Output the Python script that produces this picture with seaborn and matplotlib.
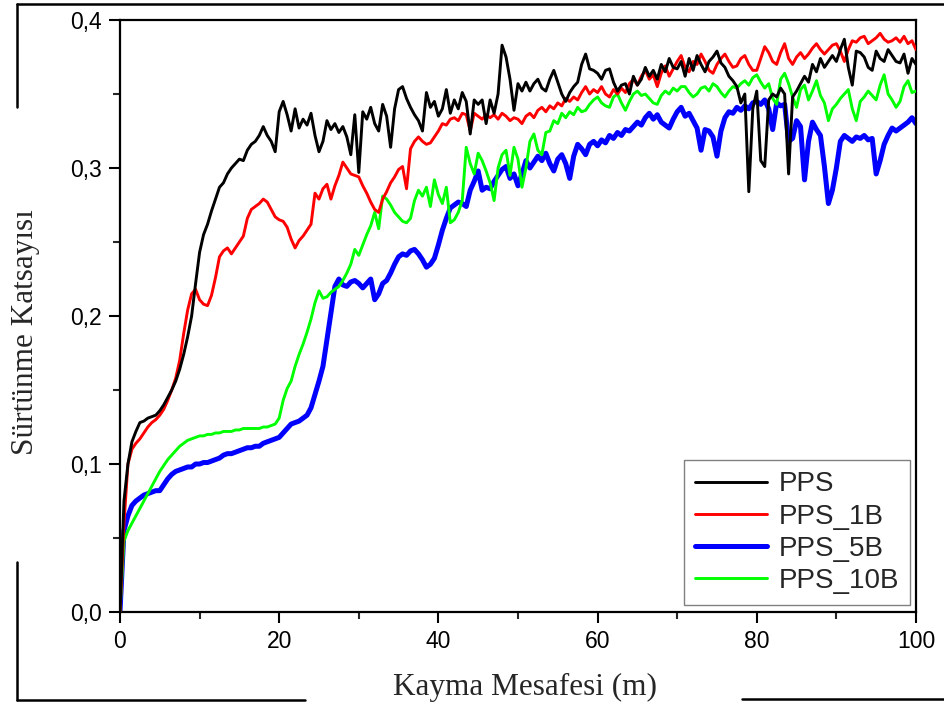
import numpy as np
import pandas as pd
import matplotlib
matplotlib.use("Agg")
import matplotlib.pyplot as plt
from matplotlib.lines import Line2D
from matplotlib.ticker import MultipleLocator
import seaborn as sns

# Sliding distance grid (m), 0.5 m step
distance = np.arange(0, 100.5, 0.5)

pps = [
    0.000, 0.075, 0.100, 0.115, 0.122, 0.128, 0.129, 0.131, 0.132, 0.133, 0.136, 0.140, 0.145, 0.150, 0.156, 0.164, 0.174, 0.186, 0.200, 0.222,
    0.243, 0.255, 0.262, 0.271, 0.279, 0.287, 0.290, 0.296, 0.300, 0.303, 0.306, 0.305, 0.312, 0.316, 0.318, 0.322, 0.328, 0.322, 0.318, 0.311,
    0.338, 0.345, 0.336, 0.325, 0.340, 0.327, 0.333, 0.329, 0.337, 0.322, 0.311, 0.318, 0.332, 0.326, 0.330, 0.324, 0.328, 0.321, 0.309, 0.336,
    0.297, 0.338, 0.333, 0.341, 0.330, 0.325, 0.343, 0.335, 0.314, 0.340, 0.353, 0.355, 0.347, 0.341, 0.336, 0.332, 0.325, 0.351, 0.341, 0.345,
    0.335, 0.340, 0.353, 0.337, 0.346, 0.340, 0.351, 0.345, 0.323, 0.346, 0.343, 0.346, 0.330, 0.346, 0.337, 0.350, 0.383, 0.375, 0.360, 0.339,
    0.357, 0.352, 0.358, 0.352, 0.357, 0.360, 0.354, 0.352, 0.360, 0.366, 0.358, 0.350, 0.345, 0.351, 0.355, 0.358, 0.370, 0.377, 0.367, 0.366,
    0.364, 0.360, 0.366, 0.367, 0.358, 0.352, 0.356, 0.357, 0.350, 0.362, 0.356, 0.360, 0.368, 0.362, 0.366, 0.360, 0.370, 0.365, 0.374, 0.368,
    0.367, 0.372, 0.362, 0.374, 0.366, 0.376, 0.370, 0.365, 0.372, 0.375, 0.379, 0.371, 0.368, 0.362, 0.359, 0.355, 0.344, 0.350, 0.284, 0.340,
    0.352, 0.305, 0.301, 0.346, 0.350, 0.348, 0.354, 0.350, 0.296, 0.348, 0.352, 0.357, 0.362, 0.358, 0.370, 0.365, 0.374, 0.368, 0.372, 0.376,
    0.372, 0.380, 0.387, 0.368, 0.356, 0.379, 0.378, 0.375, 0.368, 0.366, 0.379, 0.374, 0.372, 0.380, 0.376, 0.372, 0.371, 0.377, 0.364, 0.374,
    0.370,
]

pps_1b = [
    0.000, 0.060, 0.100, 0.110, 0.114, 0.117, 0.121, 0.125, 0.128, 0.130, 0.133, 0.137, 0.143, 0.150, 0.158, 0.170, 0.188, 0.204, 0.215, 0.218,
    0.211, 0.208, 0.207, 0.214, 0.226, 0.240, 0.244, 0.246, 0.242, 0.246, 0.250, 0.254, 0.266, 0.272, 0.274, 0.276, 0.279, 0.277, 0.272, 0.267,
    0.265, 0.264, 0.260, 0.252, 0.246, 0.251, 0.254, 0.258, 0.262, 0.283, 0.279, 0.286, 0.289, 0.279, 0.288, 0.295, 0.304, 0.300, 0.296, 0.295,
    0.294, 0.288, 0.283, 0.277, 0.272, 0.270, 0.279, 0.284, 0.290, 0.294, 0.299, 0.301, 0.286, 0.313, 0.318, 0.321, 0.318, 0.316, 0.317, 0.321,
    0.325, 0.330, 0.329, 0.333, 0.334, 0.332, 0.337, 0.336, 0.325, 0.337, 0.335, 0.333, 0.336, 0.334, 0.336, 0.333, 0.337, 0.335, 0.332, 0.334,
    0.333, 0.330, 0.335, 0.337, 0.334, 0.339, 0.341, 0.338, 0.342, 0.340, 0.344, 0.342, 0.347, 0.345, 0.348, 0.346, 0.351, 0.355, 0.350, 0.353,
    0.351, 0.355, 0.350, 0.348, 0.353, 0.350, 0.354, 0.351, 0.357, 0.360, 0.356, 0.362, 0.366, 0.360, 0.363, 0.355, 0.364, 0.369, 0.362, 0.367,
    0.372, 0.376, 0.368, 0.365, 0.372, 0.370, 0.377, 0.372, 0.366, 0.364, 0.370, 0.374, 0.377, 0.372, 0.368, 0.369, 0.374, 0.376, 0.370, 0.366,
    0.366, 0.374, 0.382, 0.378, 0.372, 0.370, 0.378, 0.384, 0.374, 0.370, 0.375, 0.378, 0.374, 0.377, 0.381, 0.384, 0.380, 0.377, 0.380, 0.383,
    0.384, 0.379, 0.372, 0.380, 0.386, 0.385, 0.388, 0.389, 0.384, 0.386, 0.388, 0.391, 0.387, 0.385, 0.386, 0.388, 0.385, 0.389, 0.384, 0.386,
    0.380,
]

pps_5b = [
    0.000, 0.055, 0.065, 0.072, 0.075, 0.077, 0.079, 0.080, 0.081, 0.082, 0.082, 0.086, 0.090, 0.093, 0.095, 0.096, 0.097, 0.098, 0.098, 0.100,
    0.100, 0.101, 0.101, 0.102, 0.103, 0.104, 0.106, 0.107, 0.107, 0.108, 0.109, 0.110, 0.111, 0.111, 0.112, 0.112, 0.114, 0.115, 0.116, 0.117,
    0.118, 0.121, 0.124, 0.127, 0.128, 0.129, 0.131, 0.133, 0.138, 0.147, 0.156, 0.166, 0.184, 0.202, 0.220, 0.225, 0.221, 0.220, 0.223, 0.224,
    0.222, 0.219, 0.222, 0.225, 0.211, 0.215, 0.222, 0.224, 0.229, 0.235, 0.240, 0.242, 0.241, 0.244, 0.245, 0.242, 0.238, 0.233, 0.235, 0.239,
    0.248, 0.258, 0.266, 0.273, 0.275, 0.277, 0.276, 0.274, 0.285, 0.291, 0.298, 0.285, 0.287, 0.286, 0.291, 0.295, 0.299, 0.301, 0.293, 0.296,
    0.288, 0.296, 0.305, 0.300, 0.304, 0.308, 0.305, 0.310, 0.303, 0.298, 0.306, 0.309, 0.303, 0.293, 0.308, 0.316, 0.313, 0.309, 0.316, 0.318,
    0.315, 0.319, 0.317, 0.322, 0.320, 0.324, 0.322, 0.326, 0.325, 0.328, 0.331, 0.329, 0.334, 0.337, 0.333, 0.336, 0.331, 0.329, 0.327, 0.333,
    0.338, 0.341, 0.335, 0.337, 0.332, 0.327, 0.312, 0.326, 0.325, 0.321, 0.308, 0.325, 0.334, 0.338, 0.337, 0.341, 0.339, 0.342, 0.340, 0.344,
    0.345, 0.343, 0.346, 0.340, 0.326, 0.344, 0.342, 0.343, 0.318, 0.320, 0.332, 0.328, 0.292, 0.318, 0.331, 0.326, 0.322, 0.301, 0.276, 0.285,
    0.300, 0.318, 0.322, 0.320, 0.318, 0.321, 0.320, 0.322, 0.319, 0.320, 0.296, 0.305, 0.316, 0.322, 0.327, 0.325, 0.327, 0.329, 0.331, 0.334,
    0.330,
]

pps_10b = [
    0.000, 0.048, 0.055, 0.060, 0.065, 0.070, 0.075, 0.080, 0.085, 0.090, 0.095, 0.099, 0.103, 0.106, 0.109, 0.112, 0.114, 0.116, 0.117, 0.118,
    0.119, 0.119, 0.120, 0.120, 0.121, 0.121, 0.122, 0.122, 0.122, 0.123, 0.123, 0.124, 0.124, 0.124, 0.124, 0.124, 0.125, 0.125, 0.126, 0.127,
    0.131, 0.143, 0.151, 0.156, 0.166, 0.174, 0.181, 0.189, 0.198, 0.209, 0.217, 0.212, 0.213, 0.216, 0.218, 0.220, 0.224, 0.229, 0.235, 0.245,
    0.241, 0.248, 0.255, 0.261, 0.270, 0.259, 0.281, 0.279, 0.275, 0.270, 0.267, 0.264, 0.263, 0.266, 0.278, 0.285, 0.281, 0.287, 0.274, 0.292,
    0.282, 0.276, 0.287, 0.263, 0.265, 0.270, 0.278, 0.314, 0.303, 0.296, 0.310, 0.305, 0.298, 0.290, 0.278, 0.300, 0.309, 0.312, 0.295, 0.314,
    0.306, 0.287, 0.300, 0.318, 0.323, 0.312, 0.309, 0.324, 0.325, 0.332, 0.330, 0.337, 0.334, 0.338, 0.336, 0.341, 0.338, 0.339, 0.343, 0.346,
    0.348, 0.344, 0.342, 0.341, 0.348, 0.350, 0.344, 0.339, 0.345, 0.350, 0.352, 0.349, 0.350, 0.347, 0.344, 0.343, 0.349, 0.352, 0.350, 0.354,
    0.352, 0.355, 0.355, 0.351, 0.348, 0.350, 0.354, 0.355, 0.352, 0.357, 0.355, 0.351, 0.348, 0.352, 0.355, 0.354, 0.357, 0.359, 0.356, 0.361,
    0.363, 0.358, 0.354, 0.357, 0.347, 0.343, 0.360, 0.364, 0.357, 0.348, 0.341, 0.353, 0.356, 0.346, 0.352, 0.359, 0.349, 0.344, 0.332, 0.340,
    0.343, 0.347, 0.350, 0.353, 0.340, 0.332, 0.345, 0.348, 0.352, 0.349, 0.346, 0.356, 0.363, 0.350, 0.346, 0.341, 0.345, 0.355, 0.359, 0.351,
    0.352,
]

series_names = ["PPS", "PPS_1B", "PPS_5B", "PPS_10B"]
series_values = [pps, pps_1b, pps_5b, pps_10b]
series_colors = ["#000000", "#ff0000", "#0000ff", "#00ff00"]
series_widths = [2.1, 2.1, 3.6, 2.1]
series_z = [5, 4, 2, 3]

x_ticks = [0, 20, 40, 60, 80, 100]
x_tick_labels = ["0", "20", "40", "60", "80", "100"]
y_ticks = [0.0, 0.1, 0.2, 0.3, 0.4]
y_tick_labels = ["0,0", "0,1", "0,2", "0,3", "0,4"]

sns.set_style("ticks")
plt.rcParams["font.family"] = ["Liberation Sans", "DejaVu Sans"]

fig = plt.figure(figsize=(9.44, 7.05), dpi=100)
ax = fig.add_axes([0.1271, 0.1319, 0.8432, 0.8397])

for name, vals, col, lw, z in zip(series_names, series_values, series_colors, series_widths, series_z):
    df = pd.DataFrame({"distance": distance, "cof": vals})
    sns.lineplot(data=df, x="distance", y="cof", ax=ax, color=col, linewidth=lw,
                 label=name, estimator=None, sort=False, zorder=z)

ax.set_xlim(0, 100)
ax.set_ylim(0, 0.4)
ax.set_xticks(x_ticks)
ax.set_xticklabels(x_tick_labels)
ax.set_yticks(y_ticks)
ax.set_yticklabels(y_tick_labels)
ax.xaxis.set_minor_locator(MultipleLocator(10))
ax.yaxis.set_minor_locator(MultipleLocator(0.05))
ax.tick_params(which="major", direction="out", length=8, width=1.5, labelsize=16.5,
               colors="black", pad=5)
ax.tick_params(which="minor", direction="out", length=5, width=1.5)
for sp in ax.spines.values():
    sp.set_visible(True)
    sp.set_linewidth(1.6)
    sp.set_color("black")

ax.set_xlabel("Kayma Mesafesi (m)", family=["Liberation Serif", "DejaVu Serif"], fontsize=22.5,
              va="center", ha="center")
ax.set_ylabel("Sürtünme Katsayısı", family=["Liberation Serif", "DejaVu Serif"], fontsize=22.5,
              va="center", ha="center")
ax.xaxis.set_label_coords(0.509, -0.127)
ax.yaxis.set_label_coords(-0.119, 0.473)

leg = ax.legend(loc="lower right", bbox_to_anchor=(0.9925, 0.012), fontsize=20, frameon=True,
                fancybox=False, edgecolor="#808080", framealpha=1, handlelength=2.6,
                borderpad=0.4, labelspacing=0.22, handletextpad=0.4, borderaxespad=0)
leg.get_frame().set_linewidth(1.0)

# page border fragments
def fig_line(x0, y0, x1, y1):
    W, H = 944.0, 705.0
    fig.add_artist(Line2D([x0 / W, x1 / W], [1 - y0 / H, 1 - y1 / H], color="black", linewidth=1.8))

fig_line(17, 4, 944, 4)
fig_line(17, 4, 17, 107)
fig_line(17, 562, 17, 700)
fig_line(17, 700, 305, 700)
fig_line(742, 699, 944, 699)

fig.savefig("out.png", dpi=100)
